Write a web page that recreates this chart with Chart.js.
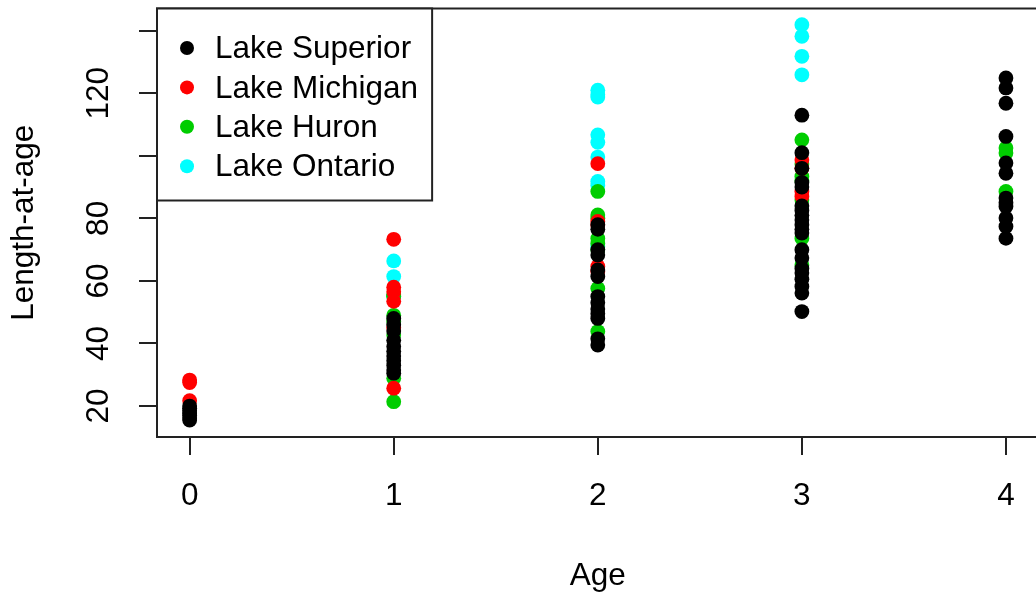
<!DOCTYPE html>
<html>
<head>
<meta charset="utf-8">
<script src="https://cdn.jsdelivr.net/npm/chart.js@4.4.1/dist/chart.umd.min.js"></script>
<style>
  html, body { margin: 0; padding: 0; overflow: hidden; background: #fff; width: 1036px; height: 598px; }
  canvas { display: block; }
</style>
</head>
<body>
<canvas id="c" width="1046" height="598"></canvas>
<script>
// Length-at-age by lake; each lake lists the lengths observed at age 0..4
const ages = [0, 1, 2, 3, 4];
const lakeNames = ['Lake Superior', 'Lake Michigan', 'Lake Huron', 'Lake Ontario'];
const lakeColors = ['#000000', '#ff0000', '#00cd00', '#00ffff'];

const superior = [
  [15.5, 16.2, 17, 17.8, 18.5, 19.3, 20],
  [30.5, 31.5, 33, 34.5, 36, 37.5, 39, 41, 44, 46, 48],
  [39.5, 41.5, 48, 49.5, 51, 53, 55, 61.4, 63.5, 68.3, 70, 76.5, 78],
  [50.2, 56.1, 58.2, 60.5, 62.5, 64, 67.3, 70, 75.3, 76.5, 78, 79.5, 81, 82.5, 84, 90, 91.5, 96, 101, 113],
  [73.6, 77.4, 80.1, 83.8, 85, 86.5, 94.4, 97.7, 106.2, 116.8, 121.7, 124.9]
];
const michigan = [
  [21.7, 27.5, 28.3],
  [25.7, 45, 53.5, 56.5, 58, 73.3],
  [63, 64.6, 77.9, 79, 97.5],
  [87, 88.6, 96, 98.7],
  []
];
const huron = [
  [],
  [21.4, 28.9, 42.7, 47, 49, 55, 55.5],
  [43.8, 57.6, 70, 72, 73.6, 80, 81.1, 88.6],
  [65.1, 73.6, 85.9, 92, 93.4, 97.4, 105.1],
  [88.6, 100.9, 102.5]
];
const ontario = [
  [],
  [55, 61.4, 66.4],
  [71, 90.5, 91.8, 99.6, 104.3, 106.7, 118.8, 119.5, 121],
  [125.9, 131.8, 138.2, 141.9],
  []
];

const ageTicks = [0, 1, 2, 3, 4];
const lengthTicks = [20, 40, 60, 80, 100, 120, 140];
const lengthTickLabels = ['20', '40', '60', '80', '', '120', ''];

const FAMILY = '"Liberation Sans", Arial, sans-serif';
const FSIZE = 31.5;
const INK = '#222';

function toPoints(byAge) {
  return byAge.flatMap((list, i) => list.map(v => ({ x: ages[i], y: v })));
}
const lakeData = [superior, michigan, huron, ontario];

// box around the plot, rotated length labels and the boxed key
const framePlugin = {
  id: 'frame',
  afterDraw(chart) {
    const { ctx, chartArea: a, scales } = chart;
    const y = scales.y;
    ctx.save();
    ctx.strokeStyle = INK;
    ctx.lineWidth = 2;
    ctx.strokeRect(a.left, a.top, a.right - a.left, a.bottom - a.top);

    ctx.font = FSIZE + 'px ' + FAMILY;
    ctx.fillStyle = '#000';
    ctx.textAlign = 'center';
    ctx.textBaseline = 'middle';
    y.ticks.forEach(t => {
      const lab = lengthTickLabels[lengthTicks.indexOf(t.value)];
      if (!lab) return;
      ctx.save();
      ctx.translate(a.left - 58, y.getPixelForValue(t.value));
      ctx.rotate(-Math.PI / 2);
      ctx.fillText(lab, 0, 0);
      ctx.restore();
    });

    // key
    const textX = a.left + 58;
    const w = Math.max(...lakeNames.map(n => ctx.measureText(n).width));
    const boxW = textX - a.left + w + 14;
    const boxH = 192;
    ctx.fillStyle = '#fff';
    ctx.fillRect(a.left, a.top, boxW, boxH);
    ctx.strokeRect(a.left, a.top, boxW, boxH);
    ctx.textAlign = 'left';
    lakeNames.forEach((n, i) => {
      const ry = a.top + 39.5 + i * 39.4;
      ctx.fillStyle = lakeColors[i];
      ctx.beginPath();
      ctx.arc(a.left + 30, ry, 7, 0, Math.PI * 2);
      ctx.fill();
      ctx.fillStyle = '#000';
      ctx.fillText(n, textX, ry + 1.5);
    });
    ctx.restore();
  }
};

const tickGrid = { drawOnChartArea: false, drawTicks: true, tickLength: 18, color: INK, lineWidth: 2 };

new Chart(document.getElementById('c'), {
  type: 'scatter',
  data: {
    datasets: lakeNames.map((name, i) => ({
      label: name,
      data: toPoints(lakeData[i]),
      backgroundColor: lakeColors[i],
      borderWidth: 0,
      pointRadius: 7.4,
      pointHoverRadius: 7.4
    }))
  },
  options: {
    responsive: false,
    animation: false,
    events: [],
    layout: { padding: { top: 8.5, right: 5, left: 0, bottom: 0 } },
    plugins: { legend: { display: false }, tooltip: { enabled: false } },
    scales: {
      x: {
        type: 'linear',
        min: -0.16,
        max: 4.16,
        afterBuildTicks: s => { s.ticks = ageTicks.map(v => ({ value: v })); },
        afterFit: s => { s.height = 161; },
        grid: tickGrid,
        border: { display: false },
        ticks: { font: { family: FAMILY, size: FSIZE }, color: '#000', padding: 22, maxRotation: 0, autoSkip: false },
        title: { display: true, text: 'Age', color: '#000', font: { family: FAMILY, size: FSIZE }, padding: { top: 0, bottom: 3 } }
      },
      y: {
        type: 'linear',
        min: 10.1,
        max: 147.1,
        afterBuildTicks: s => { s.ticks = lengthTicks.map(v => ({ value: v })); },
        afterFit: s => { s.width = 157; },
        grid: tickGrid,
        border: { display: false },
        ticks: { display: false },
        title: { display: true, text: 'Length-at-age', color: '#000', font: { family: FAMILY, size: FSIZE }, padding: { top: 5, bottom: 0 } }
      }
    }
  },
  plugins: [framePlugin]
});
</script>
</body>
</html>
